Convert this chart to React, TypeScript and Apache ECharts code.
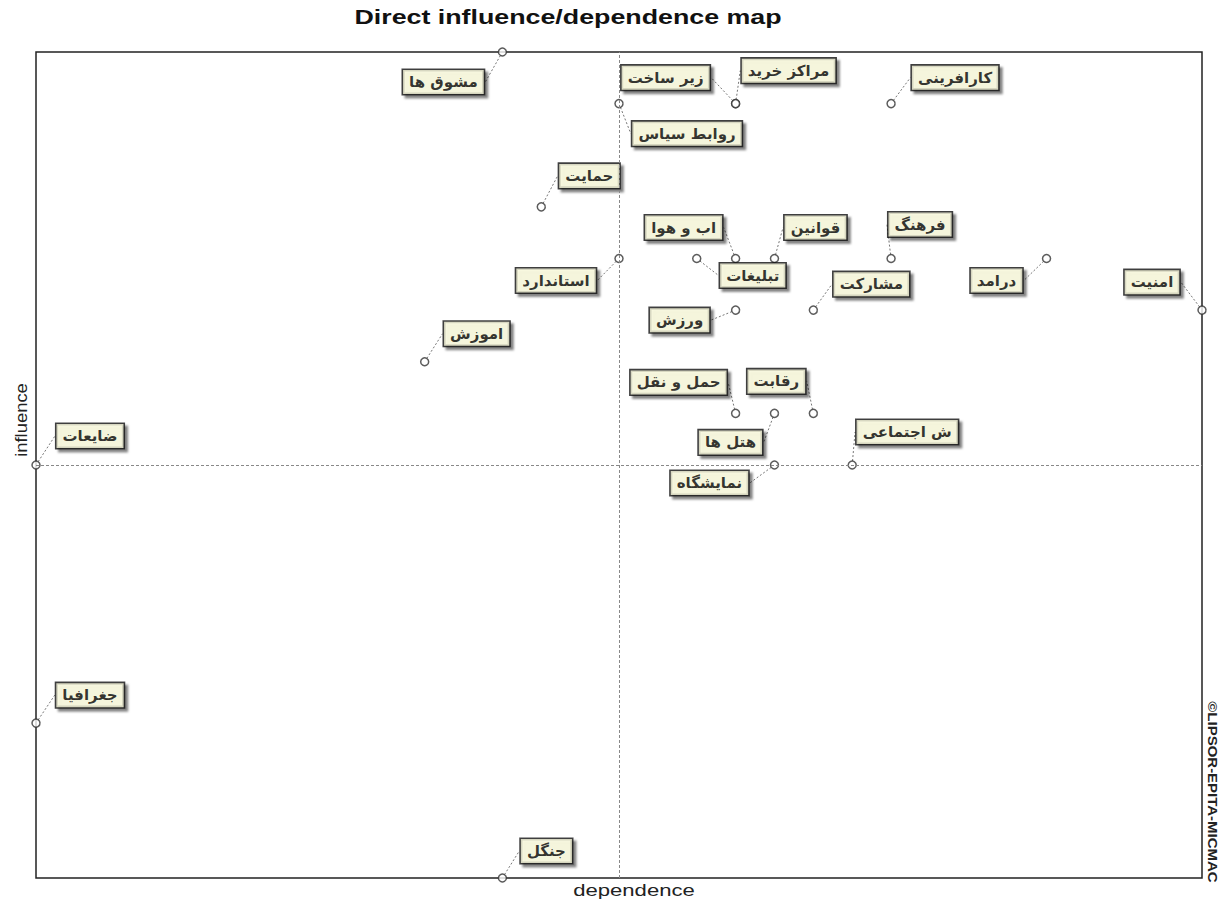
import React, { useEffect, useRef } from "react";
import * as echarts from "echarts";

const variableNames: string[] = [
  "مشوق ها", "زیر ساخت", "روابط سیاس", "مراکز خرید", "کارافرینی", "حمایت",
  "استاندارد", "اب و هوا", "قوانین", "تبلیغات", "ورزش", "فرهنگ",
  "مشارکت", "درامد", "امنیت", "اموزش", "حمل و نقل", "رقابت",
  "هتل ها", "نمایشگاه", "ش اجتماعی", "ضایعات", "جغرافیا", "جنگل",
];
const dependence: number[] = [
  12, 18, 15, 18, 22, 13,
  15, 18, 19, 17, 18, 22,
  20, 26, 30, 10, 18, 20,
  19, 19, 21, 0, 0, 12,
];
const influence: number[] = [
  16, 15, 15, 15, 15, 13,
  12, 12, 12, 12, 11, 12,
  11, 12, 11, 10, 9, 9,
  9, 8, 8, 8, 3, 0,
];
const dependenceRange: number[] = [0, 30];
const influenceRange: number[] = [0, 16];
const dependenceCross = 15;
const influenceCross = 8;

// label box offsets (px) relative to each point
const labelOffsets: number[][] = [
  [-59, 30], [-70, -26], [68, 30], [53, -33], [64, -26], [48, -31],
  [-63, 22], [-52, -31], [41, -31], [56, 17], [-56, 10], [29, -34],
  [58, -26], [-50, 22], [-50, -28], [52, -28], [-57, -31], [-37, -32],
  [-44, 29], [-65, 18], [55, -33], [54, -29], [54, -28], [44, -27],
];

export default function App() {
  const ref = useRef<HTMLDivElement>(null);
  useEffect(() => {
    if (!ref.current) return;
    const chart = echarts.init(ref.current, null, { renderer: "svg" });
    const data = variableNames.map((n, i) => ({ name: n, value: [dependence[i], influence[i]] }));
    chart.setOption({
      animation: false,
      backgroundColor: "#ffffff",
      grid: {
        left: 36, top: 52, right: 22, bottom: 25,
        show: true, borderColor: "#222", borderWidth: 1.5, backgroundColor: "transparent",
      },
      xAxis: {
        type: "value", min: dependenceRange[0], max: dependenceRange[1],
        axisLine: { show: false }, axisTick: { show: false }, axisLabel: { show: false }, splitLine: { show: false },
      },
      yAxis: {
        type: "value", min: influenceRange[0], max: influenceRange[1],
        axisLine: { show: false }, axisTick: { show: false }, axisLabel: { show: false }, splitLine: { show: false },
      },
      graphic: [
        {
          type: "text", x: 568, y: 17, scaleX: 1.34,
          style: {
            text: "Direct influence/dependence map", fill: "#111",
            font: "bold 20px 'Liberation Sans', Arial, sans-serif",
            align: "center", verticalAlign: "middle",
          },
        },
        {
          type: "text", x: 634, y: 890, scaleX: 1.3,
          style: {
            text: "dependence", fill: "#222",
            font: "17px 'Liberation Sans', Arial, sans-serif",
            align: "center", verticalAlign: "middle",
          },
        },
        {
          type: "text", x: 21, y: 420, rotation: Math.PI / 2, scaleX: 1.15,
          style: {
            text: "influence", fill: "#222",
            font: "16px 'Liberation Sans', Arial, sans-serif",
            align: "center", verticalAlign: "middle",
          },
        },
        {
          type: "text", x: 1213, y: 792, rotation: -Math.PI / 2, scaleX: 1.25, scaleY: 1.1,
          style: {
            text: "©LIPSOR-EPITA-MICMAC", fill: "#222",
            font: "bold 12px 'Liberation Sans Narrow', 'Liberation Sans', Arial, sans-serif",
            align: "center", verticalAlign: "middle",
          },
        },
      ],
      series: [
        {
          type: "scatter",
          clip: false,
          data,
          symbol: "circle",
          symbolSize: 8,
          itemStyle: { color: "#ffffff", borderColor: "#333", borderWidth: 1.5 },
          label: {
            show: true,
            position: "inside",
            formatter: (p: any) => p.name,
            color: "#000",
            fontFamily: "'DejaVu Sans', sans-serif",
            fontWeight: "bold",
            fontSize: 15,
            backgroundColor: "#ffffe2",
            borderColor: "#111",
            borderWidth: 1.6,
            padding: [5, 6, 4, 6],
            shadowColor: "rgba(0,0,0,0.55)",
            shadowBlur: 2,
            shadowOffsetX: 3,
            shadowOffsetY: 3,
          },
          labelLayout: (params: any) => {
            const o = labelOffsets[params.dataIndex];
            return { dx: o[0], dy: o[1], hideOverlap: false };
          },
          labelLine: {
            show: true,
            lineStyle: { color: "#777", width: 1, type: [2, 2] },
          },
          markLine: {
            silent: true,
            symbol: "none",
            label: { show: false },
            lineStyle: { color: "#888", width: 1, type: [3, 2] },
            data: [{ xAxis: dependenceCross }, { yAxis: influenceCross }],
          },
          z: 3,
        },
      ],
    });
    return () => chart.dispose();
  }, []);
  return (
    <div
      ref={ref}
      style={{ position: "fixed", left: 0, top: 0, width: 1224, height: 903, background: "#fff" }}
    />
  );
}
